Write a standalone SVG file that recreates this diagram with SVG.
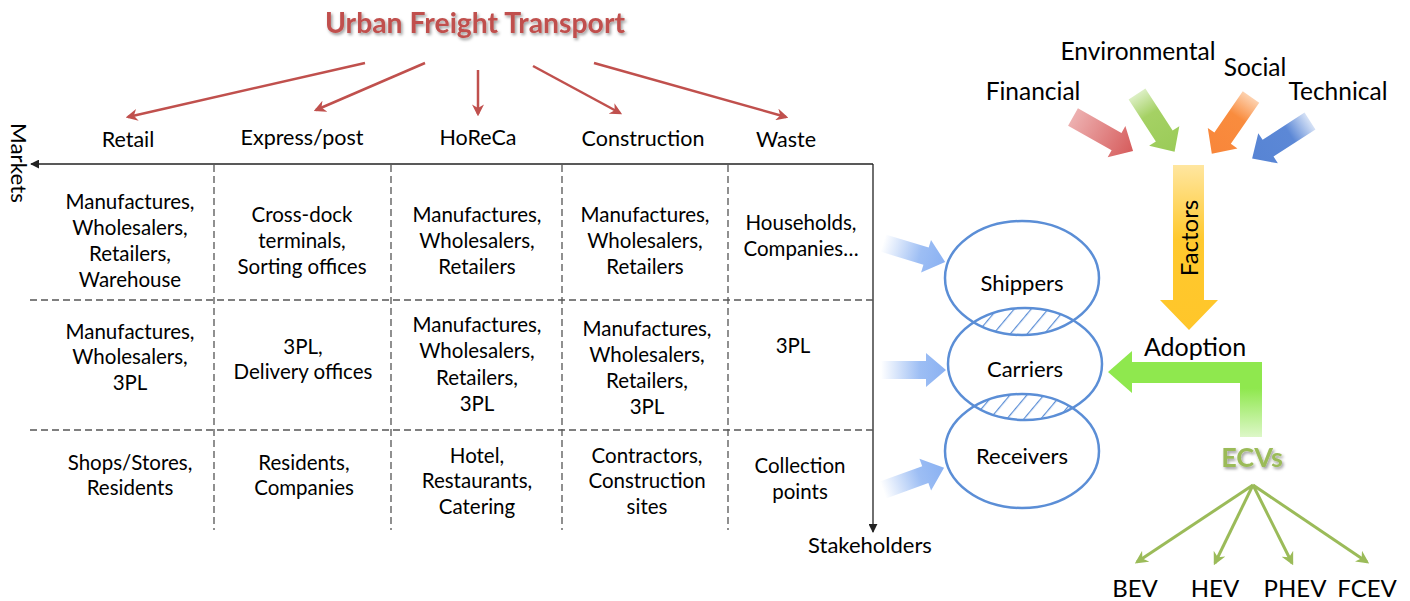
<svg xmlns="http://www.w3.org/2000/svg" width="1410" height="601" viewBox="0 0 1410 601">
<defs>
<style>
text{font-family:Lato,"Liberation Sans",sans-serif;fill:#000;}
.cell{font-size:20.5px;text-anchor:middle;}
.hdr{font-size:21.5px;text-anchor:middle;}
.lbl{font-size:24.5px;text-anchor:middle;}
.dash{stroke:#555;stroke-width:1.3;stroke-dasharray:7,4;fill:none;}
.axis{stroke:#222;stroke-width:1.3;fill:none;}
.red{stroke:#C0504D;stroke-width:2.5;fill:none;}
.grn{stroke:#9BBB59;stroke-width:3;fill:none;}
.ell{fill:none;stroke:#5B8ED6;stroke-width:2.5;}
</style>
<marker id="ah" viewBox="0 0 10 10" refX="9" refY="5" markerWidth="9" markerHeight="9" markerUnits="userSpaceOnUse" orient="auto"><path d="M0,0 L10,5 L0,10 Z" fill="#222"/></marker>
<marker id="rh" viewBox="0 0 10 10" refX="8" refY="5" markerWidth="12" markerHeight="12" markerUnits="userSpaceOnUse" orient="auto"><path d="M0,0 L10,5 L0,10 L3,5 Z" fill="#C0504D"/></marker>
<marker id="gh" viewBox="0 0 10 10" refX="8" refY="5" markerWidth="13" markerHeight="13" markerUnits="userSpaceOnUse" orient="auto"><path d="M0,0 L10,5 L0,10 L3,5 Z" fill="#9BBB59"/></marker>
<filter id="sh" x="-10%" y="-30%" width="120%" height="170%"><feDropShadow dx="1.5" dy="2" stdDeviation="1.5" flood-color="#000" flood-opacity="0.4"/></filter>
<linearGradient id="gBlue" x1="0" y1="0" x2="1" y2="0"><stop offset="0" stop-color="#FFFFFF"/><stop offset="0.6" stop-color="#9DBEF4"/><stop offset="1" stop-color="#8AB1F2"/></linearGradient>
<linearGradient id="gRed" x1="0" y1="0" x2="1" y2="0"><stop offset="0" stop-color="#EDB0B0"/><stop offset="1" stop-color="#D65C5C"/></linearGradient>
<linearGradient id="gGrn" x1="0" y1="0" x2="1" y2="0"><stop offset="0" stop-color="#DCEFC4"/><stop offset="0.35" stop-color="#A5D164"/><stop offset="1" stop-color="#9ACB58"/></linearGradient>
<linearGradient id="gOrg" x1="0" y1="0" x2="1" y2="0"><stop offset="0" stop-color="#FDD2B0"/><stop offset="0.35" stop-color="#F98C3E"/><stop offset="1" stop-color="#F8863A"/></linearGradient>
<linearGradient id="gBlu2" x1="0" y1="0" x2="1" y2="0"><stop offset="0" stop-color="#D6E2F6"/><stop offset="0.35" stop-color="#5C88D6"/><stop offset="1" stop-color="#5784D4"/></linearGradient>
<linearGradient id="gYel" x1="0" y1="0" x2="0" y2="1"><stop offset="0" stop-color="#FFE6A0"/><stop offset="0.45" stop-color="#FFC92E"/><stop offset="1" stop-color="#FFC62A"/></linearGradient>
<linearGradient id="gAd" x1="0" y1="0" x2="0" y2="1"><stop offset="0" stop-color="#8FE84E"/><stop offset="0.35" stop-color="#8FE84E"/><stop offset="1" stop-color="#DDF7C8"/></linearGradient>
<pattern id="hatch" patternUnits="userSpaceOnUse" width="13" height="13" patternTransform="rotate(40)"><line x1="0" y1="0" x2="0" y2="13" stroke="#5B8ED6" stroke-width="2.4"/></pattern>
<clipPath id="cS"><ellipse cx="1022" cy="278" rx="77" ry="57"/></clipPath>
<clipPath id="cC"><ellipse cx="1025" cy="364" rx="77" ry="56"/></clipPath>
<clipPath id="cR"><ellipse cx="1022" cy="451" rx="77" ry="57"/></clipPath>
<path id="blk" d="M0,-9 L45,-9 L45,-17 L65,0 L45,17 L45,9 L0,9 Z"/>
<path id="fblk" d="M0,-10 L50,-10 L50,-18 L69,0 L50,18 L50,10 L0,10 Z"/>
</defs>

<g id="title">
<text x="475" y="33" style="font-size:28px;font-weight:bold;fill:#C0504D;text-anchor:middle" filter="url(#sh)" textLength="300" lengthAdjust="spacingAndGlyphs">Urban Freight Transport</text>
</g>

<g id="connectors">
<line class="red" x1="365" y1="63" x2="128" y2="117" marker-end="url(#rh)"/>
<line class="red" x1="425" y1="63" x2="316" y2="110" marker-end="url(#rh)"/>
<line class="red" x1="478" y1="70" x2="478" y2="114" marker-end="url(#rh)"/>
<line class="red" x1="533" y1="66" x2="620" y2="113" marker-end="url(#rh)"/>
<line class="red" x1="594" y1="63" x2="786" y2="117" marker-end="url(#rh)"/>
<line class="grn" x1="1253" y1="485" x2="1137" y2="562" marker-end="url(#gh)"/>
<line class="grn" x1="1253" y1="485" x2="1215" y2="563" marker-end="url(#gh)"/>
<line class="grn" x1="1253" y1="485" x2="1292" y2="563" marker-end="url(#gh)"/>
<line class="grn" x1="1253" y1="485" x2="1367" y2="562" marker-end="url(#gh)"/>
<use href="#blk" fill="url(#gBlue)" transform="translate(883,243) rotate(17)"/>
<use href="#blk" fill="url(#gBlue)" transform="translate(881,370)"/>
<use href="#blk" fill="url(#gBlue)" transform="translate(883,490) rotate(-20)"/>
</g>

<g id="table">
<line class="axis" x1="873" y1="164" x2="31" y2="164" marker-end="url(#ah)"/>
<line class="axis" x1="873" y1="164" x2="873" y2="532" marker-end="url(#ah)"/>
<line class="dash" x1="214" y1="165" x2="214" y2="530"/>
<line class="dash" x1="391" y1="165" x2="391" y2="530"/>
<line class="dash" x1="562" y1="165" x2="562" y2="530"/>
<line class="dash" x1="728" y1="165" x2="728" y2="530"/>
<line class="dash" x1="30" y1="300" x2="873" y2="300"/>
<line class="dash" x1="30" y1="430" x2="873" y2="430"/>
<text x="18" y="163" transform="rotate(90 18 163)" style="font-size:21px;text-anchor:middle" dy="7" textLength="80" lengthAdjust="spacingAndGlyphs">Markets</text>
<text x="870" y="553" style="font-size:22px;text-anchor:middle">Stakeholders</text>
</g>

<g id="headers">
<text class="hdr" x="128" y="147">Retail</text>
<text class="hdr" x="302" y="145">Express/post</text>
<text class="hdr" x="478" y="145">HoReCa</text>
<text class="hdr" x="643" y="146">Construction</text>
<text class="hdr" x="786" y="147">Waste</text>
</g>

<g id="row1">
<text class="cell" x="130" y="209">Manufactures,</text>
<text class="cell" x="130" y="235">Wholesalers,</text>
<text class="cell" x="130" y="261">Retailers,</text>
<text class="cell" x="130" y="287">Warehouse</text>
<text class="cell" x="302" y="222">Cross-dock</text>
<text class="cell" x="302" y="248">terminals,</text>
<text class="cell" x="302" y="274">Sorting offices</text>
<text class="cell" x="477" y="222">Manufactures,</text>
<text class="cell" x="477" y="248">Wholesalers,</text>
<text class="cell" x="477" y="274">Retailers</text>
<text class="cell" x="645" y="222">Manufactures,</text>
<text class="cell" x="645" y="248">Wholesalers,</text>
<text class="cell" x="645" y="274">Retailers</text>
<text class="cell" x="801" y="230">Households,</text>
<text class="cell" x="801" y="256">Companies…</text>
</g>

<g id="row2">
<text class="cell" x="130" y="339">Manufactures,</text>
<text class="cell" x="130" y="364">Wholesalers,</text>
<text class="cell" x="130" y="390">3PL</text>
<text class="cell" x="303" y="354">3PL,</text>
<text class="cell" x="303" y="379">Delivery offices</text>
<text class="cell" x="477" y="332">Manufactures,</text>
<text class="cell" x="477" y="358">Wholesalers,</text>
<text class="cell" x="477" y="385">Retailers,</text>
<text class="cell" x="477" y="411">3PL</text>
<text class="cell" x="647" y="336">Manufactures,</text>
<text class="cell" x="647" y="362">Wholesalers,</text>
<text class="cell" x="647" y="388">Retailers,</text>
<text class="cell" x="647" y="414">3PL</text>
<text class="cell" x="793" y="353">3PL</text>
</g>

<g id="row3">
<text class="cell" x="130" y="470">Shops/Stores,</text>
<text class="cell" x="130" y="495">Residents</text>
<text class="cell" x="304" y="470">Residents,</text>
<text class="cell" x="304" y="495">Companies</text>
<text class="cell" x="477" y="463">Hotel,</text>
<text class="cell" x="477" y="488">Restaurants,</text>
<text class="cell" x="477" y="514">Catering</text>
<text class="cell" x="647" y="463">Contractors,</text>
<text class="cell" x="647" y="488">Construction</text>
<text class="cell" x="647" y="514">sites</text>
<text class="cell" x="800" y="473">Collection</text>
<text class="cell" x="800" y="499">points</text>
</g>

<g id="stakeholders">
<g clip-path="url(#cS)"><rect x="940" y="300" width="170" height="40" fill="url(#hatch)" clip-path="url(#cC)"/></g>
<g clip-path="url(#cC)"><rect x="940" y="390" width="170" height="40" fill="url(#hatch)" clip-path="url(#cR)"/></g>
<ellipse class="ell" cx="1022" cy="278" rx="77" ry="57"/>
<ellipse class="ell" cx="1025" cy="364" rx="77" ry="56"/>
<ellipse class="ell" cx="1022" cy="451" rx="77" ry="57"/>
<text x="1022" y="291" style="font-size:22px;text-anchor:middle">Shippers</text>
<text x="1025" y="377" style="font-size:22px;text-anchor:middle">Carriers</text>
<text x="1022" y="464" style="font-size:22px;text-anchor:middle">Receivers</text>
</g>

<g id="factors">
<use href="#fblk" fill="url(#gRed)" transform="translate(1073,117) rotate(29.5)"/>
<use href="#fblk" fill="url(#gGrn)" transform="translate(1137,94) rotate(57)"/>
<use href="#fblk" fill="url(#gOrg)" transform="translate(1251,97) rotate(124.6)"/>
<use href="#fblk" fill="url(#gBlu2)" transform="translate(1310,121) rotate(147)"/>
<text class="lbl" x="1033" y="100">Financial</text>
<text class="lbl" x="1138" y="60">Environmental</text>
<text class="lbl" x="1255" y="76">Social</text>
<text class="lbl" x="1338" y="100">Technical</text>
<path d="M1173,165 H1204 V300 H1218 L1189,330 L1160,300 H1173 Z" fill="url(#gYel)"/>
<text x="1189" y="238" transform="rotate(-90 1189 238)" dy="8.5" style="font-size:24px;text-anchor:middle">Factors</text>
</g>

<g id="adoption">
<path d="M1108,372 L1132,351 L1132,362 L1262,362 L1262,383 L1132,383 L1132,393 Z" fill="#8FE84E"/>
<rect x="1240" y="362" width="22" height="75" fill="url(#gAd)"/>
<text class="lbl" x="1195" y="356" style="font-size:25px">Adoption</text>
</g>

<g id="ecvs">
<text x="1252" y="467" style="font-size:27px;font-weight:bold;fill:#9BBB59;text-anchor:middle" filter="url(#sh)">ECVs</text>
<text class="lbl" x="1135" y="597" style="font-size:24px">BEV</text>
<text class="lbl" x="1215" y="597" style="font-size:24px">HEV</text>
<text class="lbl" x="1295" y="597" style="font-size:24px">PHEV</text>
<text class="lbl" x="1367" y="597" style="font-size:24px">FCEV</text>
</g>
</svg>
